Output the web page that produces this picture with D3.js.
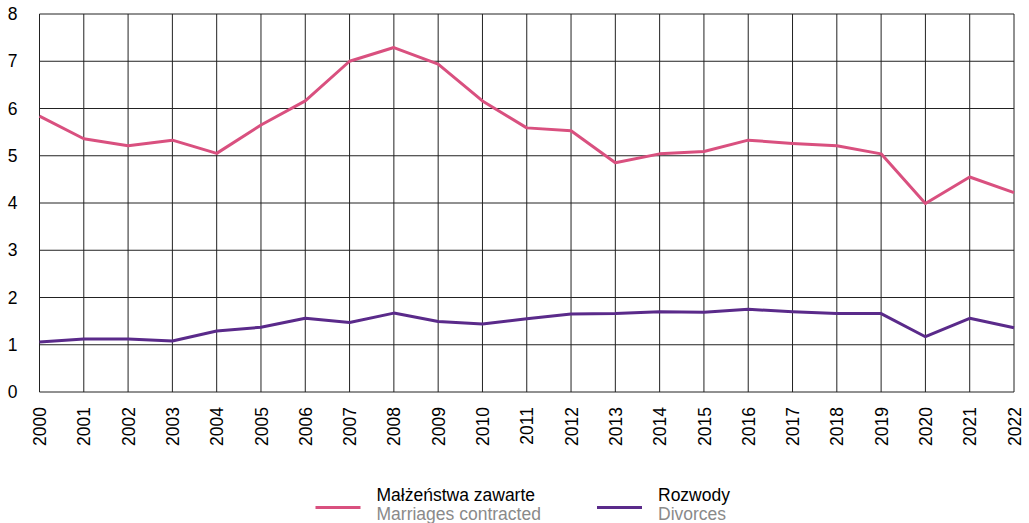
<!DOCTYPE html>
<html>
<head>
<meta charset="utf-8">
<script src="https://cdn.jsdelivr.net/npm/d3@7"></script>
<style>
  body { margin: 0; background: #fff; }
  svg { display: block; font-family: "Liberation Sans", Arial, sans-serif; }
</style>
</head>
<body>
<div id="chart"></div>
<script>
// data
var years = ["2000","2001","2002","2003","2004","2005","2006","2007","2008","2009","2010",
  "2011","2012","2013","2014","2015","2016","2017","2018","2019","2020","2021","2022"];
var marriages = [5.84,5.36,5.21,5.33,5.05,5.65,6.16,7.00,7.29,6.94,6.16,
  5.59,5.53,4.85,5.04,5.09,5.33,5.26,5.21,5.04,3.99,4.55,4.22];
var divorces = [1.06,1.12,1.12,1.08,1.29,1.37,1.56,1.47,1.67,1.49,1.44,
  1.55,1.65,1.66,1.70,1.69,1.75,1.70,1.66,1.66,1.17,1.56,1.36];
var yTicks = [0,1,2,3,4,5,6,7,8];
var seriesNames = [
  {pl: "Małżeństwa zawarte", en: "Marriages contracted", color: "#d9507f", values: marriages},
  {pl: "Rozwody", en: "Divorces", color: "#5a2a8a", values: divorces}
];

var width = 1029, height = 523;
var margin = {left: 39.5, right: 15, top: 14, bottom: 131};
var fontSize = "17.5px";

var svg = d3.select("#chart").append("svg")
  .attr("width", width)
  .attr("height", height);

var x = d3.scalePoint()
  .domain(years)
  .range([margin.left, width - margin.right]);

var y = d3.scaleLinear()
  .domain([0, 8])
  .range([height - margin.bottom, margin.top]);

// grid lines
var grid = svg.append("g").attr("class", "grid");
grid.selectAll("line.v")
  .data(years)
  .enter().append("line")
  .attr("class", "v")
  .attr("x1", function(d) { return x(d); })
  .attr("x2", function(d) { return x(d); })
  .attr("y1", y(8))
  .attr("y2", y(0))
  .attr("stroke", "#222")
  .attr("stroke-width", 1);
grid.selectAll("line.h")
  .data(yTicks)
  .enter().append("line")
  .attr("class", "h")
  .attr("x1", x(years[0]))
  .attr("x2", x(years[years.length - 1]))
  .attr("y1", function(d) { return y(d); })
  .attr("y2", function(d) { return y(d); })
  .attr("stroke", "#222")
  .attr("stroke-width", 1);

// y axis labels
var yAxis = d3.axisLeft(y).tickValues(yTicks).tickSize(0).tickPadding(22);
var gy = svg.append("g")
  .attr("transform", "translate(" + margin.left + ",0)")
  .call(yAxis);
gy.select(".domain").remove();
gy.selectAll("text")
  .attr("font-size", fontSize)
  .attr("font-family", "Liberation Sans, Arial, sans-serif")
  .attr("fill", "#000");

// x axis labels, rotated
var xAxis = d3.axisBottom(x).tickSize(0).tickPadding(0);
var gx = svg.append("g")
  .attr("transform", "translate(0," + y(0) + ")")
  .call(xAxis);
gx.select(".domain").remove();
gx.selectAll("text")
  .attr("font-size", fontSize)
  .attr("font-family", "Liberation Sans, Arial, sans-serif")
  .attr("fill", "#000")
  .attr("transform", "rotate(-90)")
  .attr("text-anchor", "end")
  .attr("x", -15)
  .attr("y", 0)
  .attr("dy", "0.35em");

// lines
var line = d3.line()
  .x(function(d, i) { return x(years[i]); })
  .y(function(d) { return y(d); });

seriesNames.forEach(function(s) {
  svg.append("path")
    .datum(s.values)
    .attr("fill", "none")
    .attr("stroke", s.color)
    .attr("stroke-width", 3)
    .attr("stroke-linejoin", "round")
    .attr("d", line);
});

// legend
var legendX = [315.5, 597];
var legend = svg.append("g").attr("class", "legend");
seriesNames.forEach(function(s, i) {
  var g = legend.append("g").attr("transform", "translate(" + legendX[i] + ",0)");
  g.append("line")
    .attr("x1", 0).attr("x2", 45)
    .attr("y1", 507.5).attr("y2", 507.5)
    .attr("stroke", s.color)
    .attr("stroke-width", 3);
  g.append("text")
    .attr("x", 61).attr("y", 501)
    .attr("font-size", fontSize)
    .attr("fill", "#000")
    .text(s.pl);
  g.append("text")
    .attr("x", 61).attr("y", 520)
    .attr("font-size", fontSize)
    .attr("fill", "#8a8a8a")
    .text(s.en);
});
</script>
</body>
</html>
